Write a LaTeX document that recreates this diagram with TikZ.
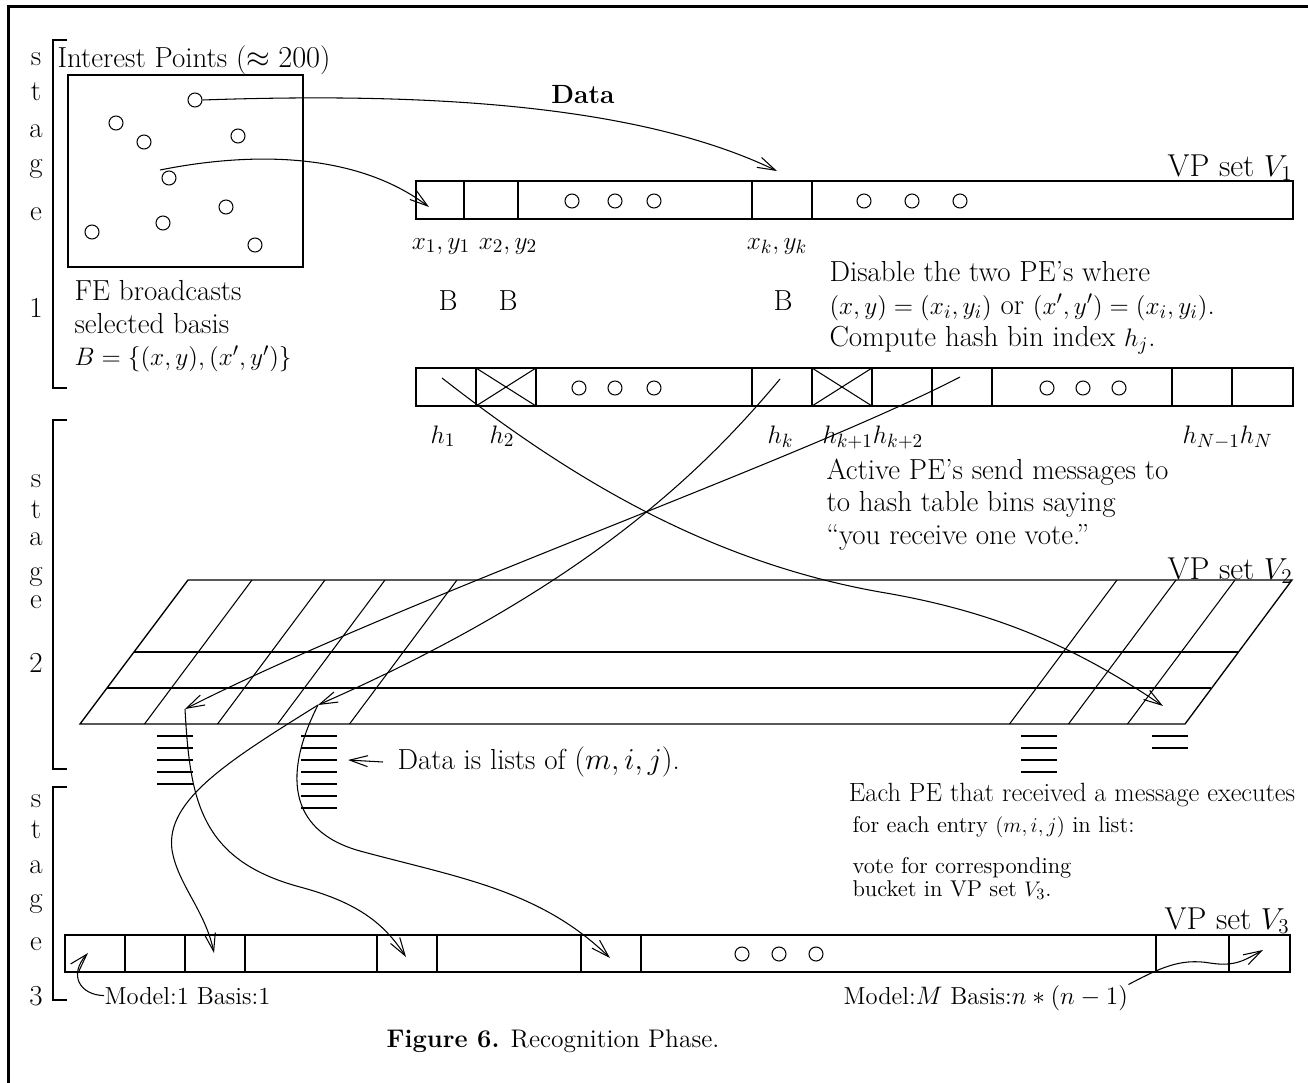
\documentclass[tikz,border=0pt]{standalone}
\usepackage{amsmath,amssymb}
\usepackage{tikz}
\usetikzlibrary{arrows.meta}

\newcommand{\figmain}{\fontsize{16.5}{18.5}\selectfont}
\newcommand{\figlab}{\fontsize{15}{17}\selectfont}
\newcommand{\figsmall}{\fontsize{13}{13}\selectfont}
\newcommand{\figmodel}{\fontsize{14}{16}\selectfont}
\newcommand{\figvp}{\fontsize{18}{20}\selectfont}
\newcommand{\figcap}{\fontsize{14.5}{17}\selectfont}

\begin{document}
\begin{tikzpicture}[
  x=0.02cm, y=-0.02cm,
  line width=0.6pt,
  every node/.style={font=\figmain, inner sep=0pt},
  cell/.style={line width=0.75pt},
  pt/.style={draw, circle, minimum size=0.28cm, line width=0.6pt},
  arr/.style={-{Straight Barb[length=3.6mm,width=2.2mm]}, line width=0.6pt},
  stg/.style={anchor=base},
  vp/.style={font=\figvp, anchor=base east},
  lbl/.style={anchor=base, font=\figlab},
  hl/.style={anchor=base west, font=\figlab},
]
\useasboundingbox (0,0) rectangle (1308,1082);
% page frame
\draw[line width=1.7pt] (8.5,1090) -- (8.5,6.5) -- (1320,6.5);

% stage brackets
\draw (67,40) -- (53,40) -- (53,388) -- (67,388);
\draw (67,420) -- (53,420) -- (53,769) -- (67,769);
\draw (67,787) -- (53,787) -- (53,1000) -- (67,1000);
\foreach \c/\y [count=\i] in {s/65,t/100,a/137,g/172,e/220,1/317}
  \node[stg] (sa\i) at (36,\y) {\c};
\foreach \c/\y [count=\i] in {s/487,t/518,a/545,g/580,e/608,2/672}
  \node[stg] (sb\i) at (36,\y) {\c};
\foreach \c/\y [count=\i] in {s/807,t/838,a/873,g/907,e/950,3/1005}
  \node[stg] (sc\i) at (36,\y) {\c};

% stage 1: interest points
\node[anchor=base west] (iptitle) at (57,67) {Interest Points ($\approx 200$)};
\draw[cell] (68,75) rectangle (303,267);
\foreach \x/\y [count=\i] in {195/100,116/123,144/142,238/136,169/178,226/207,163/223,92/232,255/245}
  \node[pt] (ip\i) at (\x,\y) {};
\node[anchor=north west, align=left] (fe) at (74,280)
  {FE broadcasts\\selected basis\\{\figlab$B=\{(x,y),(x',y')\}$}};
\node[font=\figlab\bfseries] (data) at (583,95) {Data};

% VP set V1
\node[vp] (vp1) at (1293,176) {VP set $V_1$};
\draw[cell] (416,181) rectangle (1293,219);
\foreach \x in {464,518,752,812}
  \draw[cell] (\x,181) -- (\x,219);
\foreach \x [count=\i] in {572,615,654,864,912,960}
  \node[pt] (va\i) at (\x,201) {};
\node[lbl] (xy1) at (441,249) {$x_1,y_1$};
\node[lbl] (xy2) at (508,249) {$x_2,y_2$};
\node[lbl] (xyk) at (777,249) {$x_k,y_k$};
\coordinate (ipa) at (160,170);
\coordinate (v1a) at (429,207);
\coordinate (v1k) at (777,171);
\draw[arr] (ip1.east) .. controls (430,92) and (640,105) .. (v1k);
\draw[arr] (ipa) .. controls (260,150) and (360,155) .. (v1a);

\node[stg] (b1) at (448,310) {B};
\node[stg] (b2) at (508,310) {B};
\node[stg] (bk) at (783,310) {B};
\node[anchor=north west, align=left] (dis) at (829,261)
  {Disable the two PE's where\\{\figlab$(x,y)=(x_i,y_i)$} or {\figlab$(x',y')=(x_i,y_i)$}.\\Compute hash bin index {\figlab$h_j$}.};

% hash bins
\draw[cell] (416,368) rectangle (1293,406);
\foreach \x in {476,536,752,812,872,932,992,1172,1232}
  \draw[cell] (\x,368) -- (\x,406);
\draw (476,368) -- (536,406) (476,406) -- (536,368);
\draw (812,368) -- (872,406) (812,406) -- (872,368);
\foreach \x [count=\i] in {579,615,654,1047,1083,1119}
  \node[pt] (vb\i) at (\x,388) {};
\node[hl] (h1) at (430,443) {$h_1$};
\node[hl] (h2) at (489,443) {$h_2$};
\node[hl] (hk) at (767,443) {$h_k$};
\node[hl] (hk1) at (822,443) {$h_{k+1}h_{k+2}$};
\node[hl] (hN) at (1182,443) {$h_{N-1}h_N$};
\node[anchor=north west, align=left] (act) at (826,458)
  {Active PE's send messages to\\to hash table bins saying\\``you receive one vote.''};

% stage 2: VP set V2
\node[vp] (vp2) at (1293,579) {VP set $V_2$};
\draw[cell] (188,580) -- (1292,580) -- (1185,724) -- (80,724) -- cycle;
\draw (134,652) -- (1238,652);
\draw (107,688) -- (1211,688);
\foreach \x in {252,325,385,457,1117,1176,1235}
  \draw (\x,580) -- ++(-107.5,144);
\foreach \y in {736,748,760,772,784}
  \draw (157,\y) -- (193,\y);
\foreach \y in {736,748,...,808}
  \draw (301,\y) -- (337,\y);
\foreach \y in {736,748,760,772}
  \draw (1021,\y) -- (1057,\y);
\foreach \y in {736,748}
  \draw (1152,\y) -- (1188,\y);
\node[anchor=west] (dil) at (397,762) {Data is lists of $(m,i,j)$.};
\coordinate (lst) at (348,760);
\draw[arr] ([xshift=-0.28cm]dil.west) -- (lst);

\coordinate (s1) at (442,378);
\coordinate (sk) at (780,379);
\coordinate (sk2) at (960,377);
\coordinate (tR) at (1163,706);
\coordinate (tA) at (185,709);
\coordinate (tB) at (318,705);
\draw[arr] (s1) .. controls (560,470) and (700,560) .. (880,592)
  .. controls (1000,612) and (1080,650) .. (tR);
\draw[arr] (sk) .. controls (700,475) and (580,590) .. (tB);
\draw[arr] (sk2) .. controls (800,460) and (400,600) .. (tA);

% stage 3
\node[anchor=base, font=\figlab] (each) at (1072,801) {Each PE that received a message executes};
\node[anchor=base west, font=\figsmall] (fore) at (852,832) {for each entry $(m,i,j)$ in list:};
\node[anchor=north west, align=left, font=\figsmall] (vote) at (852,857)
  {vote for corresponding\\bucket in VP set $V_3$.};
\node[vp] (vp3) at (1290,929) {VP set $V_3$};
\draw[cell] (65,935) rectangle (1290,972);
\foreach \x in {125,185,245,377,437,581,641,1156,1229}
  \draw[cell] (\x,935) -- (\x,972);
\foreach \x [count=\i] in {742,779,816}
  \node[pt] (vc\i) at (\x,954) {};
\coordinate (c1) at (214,953);
\coordinate (c2) at (406,957);
\coordinate (c3) at (610,958);
\draw[arr] (tA) .. controls (190,800) and (200,860) .. (300,887)
  .. controls (360,903) and (385,925) .. (c2);
\draw[arr] (tB) .. controls (285,770) and (285,830) .. (360,851)
  .. controls (460,878) and (540,890) .. (c3);
\draw[arr] (tB) .. controls (230,760) and (165,800) .. (172,850)
  .. controls (178,885) and (205,910) .. (c1);

\node[anchor=base west, font=\figmodel] (m1) at (104,1004) {Model:1 Basis:1};
\node[anchor=base west, font=\figmodel] (mM) at (843,1004) {Model:$M$ Basis:$n*(n-1)$};
\coordinate (c0) at (88,953);
\coordinate (cN) at (1263,950);
\draw[arr] (m1.west) .. controls (80,995) and (68,975) .. (c0);
\draw[arr] (mM.north east) .. controls (1160,968) and (1180,958) .. (1210,963)
  .. controls (1235,967) and (1245,960) .. (cN);

\node[anchor=base, font=\figcap] (cap) at (553,1047) {\textbf{Figure 6.} Recognition Phase.};
\end{tikzpicture}
\end{document}
